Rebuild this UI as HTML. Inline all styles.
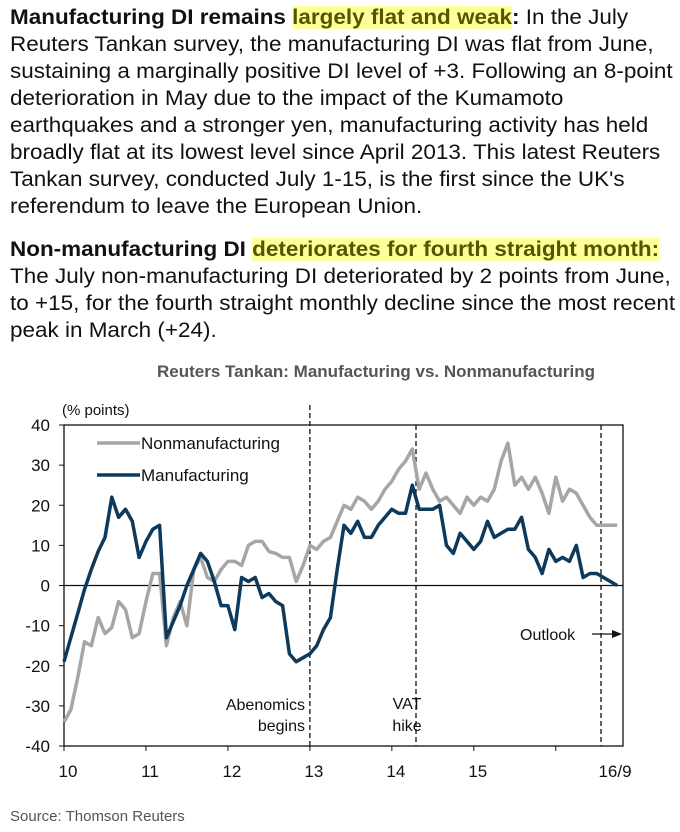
<!DOCTYPE html>
<html><head><meta charset="utf-8">
<style>
body{margin:0;background:#fff;width:680px;height:832px;position:relative;overflow:hidden;font-family:"Liberation Sans",Arial,sans-serif;}
.p{position:absolute;left:10px;font-size:21px;line-height:27px;color:#111;white-space:nowrap;transform:scaleX(1.07);transform-origin:0 0;}
.hl{background:#ffff99;color:#555500;font-weight:bold;}
b{color:#111;}
</style></head><body>
<div class="p" style="top:4px">
<div><b>Manufacturing DI remains </b><span class="hl">largely flat and weak</span><b>:</b> In the July</div>
<div>Reuters Tankan survey, the manufacturing DI was flat from June,</div>
<div>sustaining a marginally positive DI level of +3. Following an 8-point</div>
<div>deterioration in May due to the impact of the Kumamoto</div>
<div>earthquakes and a stronger yen, manufacturing activity has held</div>
<div>broadly flat at its lowest level since April 2013. This latest Reuters</div>
<div>Tankan survey, conducted July 1-15, is the first since the UK's</div>
<div>referendum to leave the European Union.</div>
</div>
<div class="p" style="top:236px">
<div><b>Non-manufacturing DI </b><span class="hl">deteriorates for fourth straight month:</span></div>
<div>The July non-manufacturing DI deteriorated by 2 points from June,</div>
<div>to +15, for the fourth straight monthly decline since the most recent</div>
<div>peak in March (+24).</div>
</div>
<svg id="chart" width="680" height="832" style="position:absolute;left:0;top:0" font-family="Liberation Sans, Arial, sans-serif"></svg>
<script>
const yTicks=[40,30,20,10,0,-10,-20,-30,-40];
const xTickLabels=["10","11","12","13","14","15"];
const manufacturing=[-19,-13,-7,-1,4,8.5,12,22,17,19,16,7,11,14,15,-13,-9,-5,0,4,8,6,1,-5,-5,-11,2,1,2,-3,-2,-4,-5,-17,-19,-18,-17,-15,-11,-8,4,15,13,16,12,12,15,17,19,18,18,25,19,19,19,20,10,8,13,11,9,11,16,12,13,14,14,17,9,7,3,9,6,7,6,10,2,3,3,2,1,0];
const nonmanufacturing=[-34,-31,-23,-14,-15,-8,-12,-10.5,-4,-6,-13,-12,-4,3,3,-15,-8,-4,-10,4,7,2,1,4,6,6,5,10,11,11,8.5,8,7,7,1,5,10,9,11,12,16,20,19,22,21,19,21,24,26,29,31,34,24,28,24,21,22,20,18,22,20,22,21,24,31,35.5,25,27,24,27,23,18,27,21,24,23,20,17,15,15,15,15];
const svg=document.getElementById('chart');
const NS='http://www.w3.org/2000/svg';
const X0=64,X1=623,Y0=425,Y1=746,MW=6.83;
const xs=m=>X0+m*MW;
const ys=v=>Y0+(40-v)*(Y1-Y0)/80;
function mk(t,a,txt){const e=document.createElementNS(NS,t);for(const k in a)e.setAttribute(k,a[k]);if(txt!==undefined)e.textContent=txt;svg.appendChild(e);return e;}
let e;
e=mk('text',{x:376,y:377,'text-anchor':'middle','font-size':17,'font-weight':'bold',fill:'#555'},'Reuters Tankan: Manufacturing vs. Nonmanufacturing');


e=mk('text',{x:62,y:415,'font-size':15,fill:'#111'},'(% points)');


e=mk('rect',{x:X0,y:Y0,width:X1-X0,height:Y1-Y0,fill:'none',stroke:'#111','stroke-width':1.3});


yTicks.forEach(v=>{
 e=mk('line',{x1:X0-5,x2:X0,y1:ys(v),y2:ys(v),stroke:'#111'});
 
 
 e=mk('text',{x:50,y:ys(v)+6,'text-anchor':'end','font-size':17,fill:'#111'},String(v));
 
 
});
e=mk('line',{x1:X0,x2:X1,y1:ys(0),y2:ys(0),stroke:'#111','stroke-width':1.2});


xTickLabels.forEach((l,i)=>{
 const x=xs(i*12);
 e=mk('line',{x1:x,x2:x,y1:Y1,y2:Y1+5,stroke:'#111'});
 
 
 e=mk('text',{x:x+4,y:777,'text-anchor':'middle','font-size':17,fill:'#111'},l);
 
 
});
e=mk('line',{x1:xs(72),x2:xs(72),y1:Y1,y2:Y1+5,stroke:'#111'});


e=mk('text',{x:615,y:777,'text-anchor':'middle','font-size':17,fill:'#111'},'16/9');


[[xs(36),405],[416,425],[601,425]].forEach(d=>{
 e=mk('line',{x1:d[0],x2:d[0],y1:d[1],y2:Y1,stroke:'#111','stroke-width':1.3,'stroke-dasharray':'5,3'});
 
 
});
function pts(a){return a.map((v,i)=>xs(i).toFixed(1)+','+ys(v).toFixed(1)).join(' ');}
e=mk('polyline',{points:pts(nonmanufacturing),fill:'none',stroke:'#a6a6a6','stroke-width':3.5,'stroke-linejoin':'round'});


e=mk('polyline',{points:pts(manufacturing),fill:'none',stroke:'#0d3a5c','stroke-width':3.5,'stroke-linejoin':'round'});


e=mk('line',{x1:97,x2:140,y1:443,y2:443,stroke:'#a6a6a6','stroke-width':3.5});


e=mk('text',{x:141,y:449,'font-size':17,fill:'#111'},'Nonmanufacturing');


e=mk('line',{x1:97,x2:140,y1:475,y2:475,stroke:'#0d3a5c','stroke-width':3.5});


e=mk('text',{x:141,y:481,'font-size':17,fill:'#111'},'Manufacturing');


e=mk('text',{x:305,y:710,'text-anchor':'end','font-size':16,fill:'#111'},'Abenomics');


e=mk('text',{x:305,y:731,'text-anchor':'end','font-size':16,fill:'#111'},'begins');


e=mk('text',{x:407,y:709,'text-anchor':'middle','font-size':16,fill:'#111'},'VAT');


e=mk('text',{x:407,y:731,'text-anchor':'middle','font-size':16,fill:'#111'},'hike');


e=mk('text',{x:520,y:640,'font-size':16,fill:'#111'},'Outlook');


e=mk('line',{x1:592,x2:614,y1:634,y2:634,stroke:'#111','stroke-width':1.3});


e=mk('polygon',{points:'622,634 612,630 612,638',fill:'#111'});


e=mk('text',{x:10,y:821,'font-size':15,fill:'#555'},'Source: Thomson Reuters');


</script>
</body></html>
